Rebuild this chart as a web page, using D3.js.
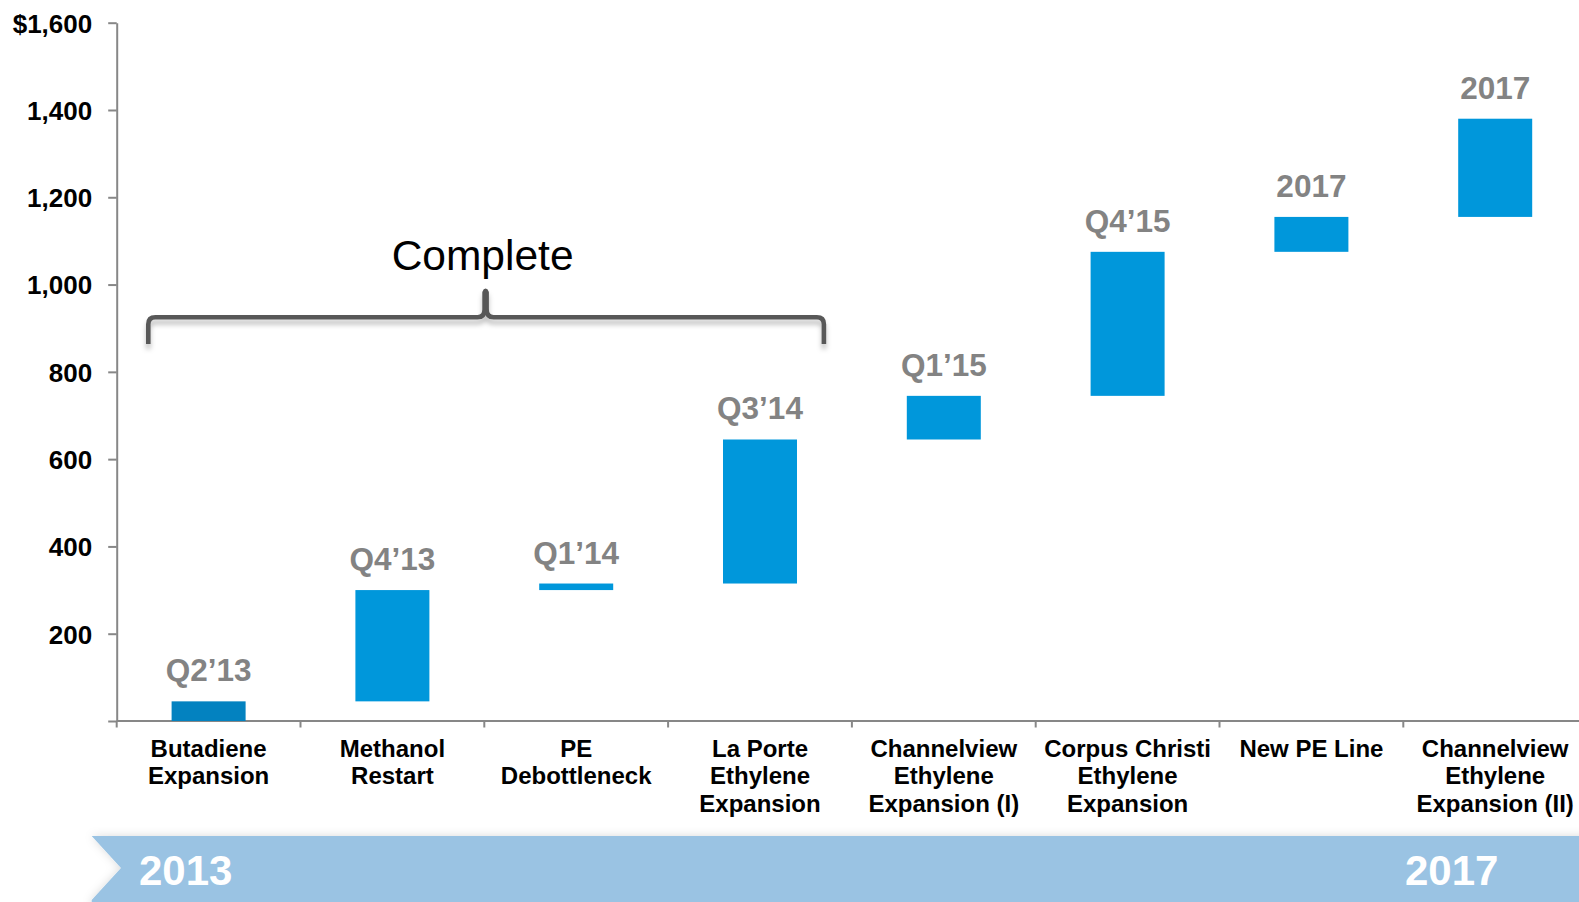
<!DOCTYPE html>
<html>
<head>
<meta charset="utf-8">
<script src="https://cdn.jsdelivr.net/npm/d3@7"></script>
<style>
  html, body { margin: 0; padding: 0; background: #fff; }
  svg { display: block; }
  text { font-family: "Liberation Sans", Arial, Helvetica, sans-serif; }
</style>
</head>
<body>
<svg id="chart" width="1579" height="902"></svg>
<script>
// Project names (one entry per line of the label)
const categories = [
  ["Butadiene", "Expansion"],
  ["Methanol", "Restart"],
  ["PE", "Debottleneck"],
  ["La Porte", "Ethylene", "Expansion"],
  ["Channelview", "Ethylene", "Expansion (I)"],
  ["Corpus Christi", "Ethylene", "Expansion"],
  ["New PE Line"],
  ["Channelview", "Ethylene", "Expansion (II)"]
];
// Cumulative EBITDA step: where each floating bar starts and ends ($ millions)
const startValues = [0, 45, 300, 315, 645, 745, 1075, 1155];
const endValues   = [45, 300, 315, 645, 745, 1075, 1155, 1380];
// Timing shown above each bar
const timingLabels = ["Q2’13", "Q4’13", "Q1’14", "Q3’14", "Q1’15", "Q4’15", "2017", "2017"];
// Y axis ticks
const yTicks = [0, 200, 400, 600, 800, 1000, 1200, 1400, 1600];
// Timeline band labels
const timelineLabels = ["2013", "2017"];
// Bracket annotation
const bracketLabel = "Complete";
const bracketRange = [0, 3];          // first and last project covered
const bracketLevels = { legs: 864, bar: 925, peak: 989, text: 1033 };

const svg = d3.select("#chart");
const W = 1579, H = 902;

const x = d3.scaleBand()
  .domain(d3.range(categories.length))
  .range([116.7, 116.7 + 183.8 * categories.length])
  .paddingInner(0)
  .paddingOuter(0);

const y = d3.scaleLinear().domain([0, 1600]).range([721, 22.7]);

const bw = x.bandwidth();
const barW = 74;

const defs = svg.append("defs");
const shadow = defs.append("filter").attr("id", "bracketShadow")
  .attr("x", "-5%").attr("y", "-50%").attr("width", "110%").attr("height", "250%");
shadow.append("feDropShadow")
  .attr("dx", 0).attr("dy", 5).attr("stdDeviation", 2.5)
  .attr("flood-color", "#000").attr("flood-opacity", 0.25);

const glow = defs.append("filter").attr("id", "bandGlow")
  .attr("x", "-5%").attr("y", "-40%").attr("width", "110%").attr("height", "180%");
glow.append("feDropShadow")
  .attr("dx", 0).attr("dy", 0).attr("stdDeviation", 5)
  .attr("flood-color", "#000").attr("flood-opacity", 0.14);

// Y axis
const yAxis = d3.axisLeft(y)
  .tickValues(yTicks)
  .tickSize(8.5)
  .tickSizeOuter(0)
  .tickPadding(16)
  .tickFormat(d => d === 0 ? "" : (d === 1600 ? "$" + d3.format(",")(d) : d3.format(",")(d)));

const gy = svg.append("g").attr("transform", "translate(116.7,0)").call(yAxis);
gy.select(".domain").attr("stroke", "#878787").attr("stroke-width", 2);
gy.selectAll(".tick line").attr("stroke", "#878787").attr("stroke-width", 2);
gy.selectAll(".tick text")
  .attr("fill", "#000")
  .attr("font-size", 26)
  .attr("font-weight", "bold")
  .attr("dy", "0.36em")
  .attr("font-family", "'Liberation Sans', Arial, sans-serif");

// X axis: baseline with tick marks at project boundaries
const gx = svg.append("g");
gx.append("line")
  .attr("x1", x.range()[0]).attr("x2", W)
  .attr("y1", y(0)).attr("y2", y(0))
  .attr("stroke", "#878787").attr("stroke-width", 2);
gx.selectAll("line.tick")
  .data(d3.range(categories.length))
  .join("line")
  .attr("class", "tick")
  .attr("x1", d => x(d)).attr("x2", d => x(d))
  .attr("y1", y(0)).attr("y2", y(0) + 6.5)
  .attr("stroke", "#878787").attr("stroke-width", 2);

// Category labels
const catG = svg.append("g");
categories.forEach((lines, i) => {
  const t = catG.append("text")
    .attr("x", x(i) + bw / 2)
    .attr("y", 756.7)
    .attr("text-anchor", "middle")
    .attr("font-size", 24)
    .attr("font-weight", "bold")
    .attr("fill", "#000");
  lines.forEach((ln, j) => {
    t.append("tspan")
      .attr("x", x(i) + bw / 2)
      .attr("dy", j === 0 ? 0 : 27.5)
      .text(ln);
  });
});

// Floating bars
svg.append("g").selectAll("rect")
  .data(d3.range(categories.length))
  .join("rect")
  .attr("x", d => x(d) + bw / 2 - barW / 2)
  .attr("width", barW)
  .attr("y", d => y(endValues[d]))
  .attr("height", d => y(startValues[d]) - y(endValues[d]))
  .attr("fill", d => d === 0 ? "#0382C0" : "#0097DB");

// Timing labels
svg.append("g").selectAll("text")
  .data(d3.range(categories.length))
  .join("text")
  .attr("x", d => x(d) + bw / 2)
  .attr("y", d => y(endValues[d]) - 20)
  .attr("text-anchor", "middle")
  .attr("font-size", 31.5)
  .attr("font-weight", "bold")
  .attr("fill", "#838383")
  .text(d => timingLabels[d]);

// "Complete" curly bracket
const bl = x(bracketRange[0]) + 31.6;
const br = x(bracketRange[1]) + bw - 28;
const bc = (bl + br) / 2 - 0.5;
const yBar = y(bracketLevels.bar), yLeg = y(bracketLevels.legs), yPeak = y(bracketLevels.peak);
const r = 7;
const p = d3.path();
p.moveTo(bl, yLeg);
p.lineTo(bl, yBar + r);
p.quadraticCurveTo(bl, yBar, bl + r, yBar);
p.lineTo(bc - 8, yBar);
p.quadraticCurveTo(bc - 1, yBar, bc - 1, yBar - 8);
p.lineTo(bc - 1, yPeak + 3);
p.quadraticCurveTo(bc, yPeak, bc + 1, yPeak + 3);
p.lineTo(bc + 1, yBar - 8);
p.quadraticCurveTo(bc + 1, yBar, bc + 8, yBar);
p.lineTo(br - r, yBar);
p.quadraticCurveTo(br, yBar, br, yBar + r);
p.lineTo(br, yLeg);

svg.append("path")
  .attr("d", p.toString())
  .attr("fill", "none")
  .attr("stroke", "#595959")
  .attr("stroke-width", 4.6)
  .attr("stroke-linejoin", "round")
  .attr("filter", "url(#bracketShadow)");

svg.append("text")
  .attr("x", bc - 3)
  .attr("y", y(bracketLevels.text))
  .attr("text-anchor", "middle")
  .attr("font-size", 42.5)
  .attr("fill", "#000")
  .text(bracketLabel);

// Timeline band along the bottom
const bandTop = 836, bandMid = 868, bandBot = 900, bandLeft = 91.7, notch = 121;
svg.append("path")
  .attr("d", `M${bandLeft},${bandTop}L${W + 20},${bandTop}L${W + 20},${H + 20}L${bandLeft},${H + 20}L${bandLeft},${bandBot}L${notch},${bandMid}Z`)
  .attr("fill", "#9AC3E3")
  .attr("filter", "url(#bandGlow)");

svg.append("text")
  .attr("x", 139).attr("y", 885)
  .attr("font-size", 42).attr("font-weight", "bold").attr("fill", "#fff")
  .text(timelineLabels[0]);
svg.append("text")
  .attr("x", 1405).attr("y", 885)
  .attr("font-size", 42).attr("font-weight", "bold").attr("fill", "#fff")
  .text(timelineLabels[1]);
</script>
</body>
</html>
